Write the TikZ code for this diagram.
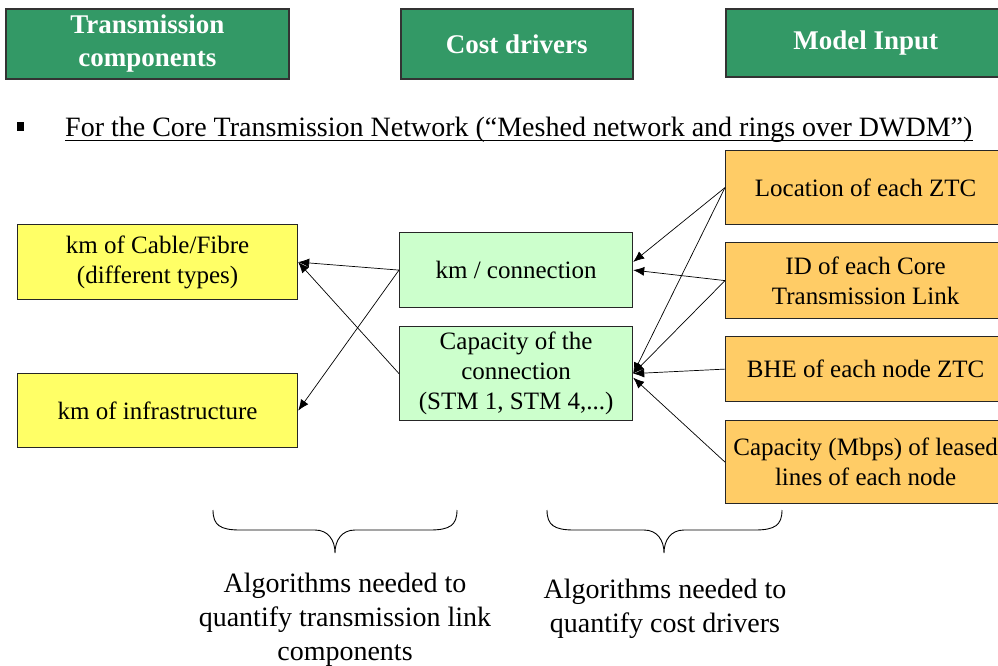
\documentclass[tikz,border=0pt]{standalone}
\usepackage{fontspec}
\setmainfont{Liberation Serif}
\usetikzlibrary{arrows.meta}
\definecolor{hdrgreen}{RGB}{51,153,102}
\definecolor{yel}{RGB}{255,255,102}
\definecolor{lgreen}{RGB}{204,255,204}
\definecolor{orng}{RGB}{255,204,102}
\begin{document}
\begin{tikzpicture}[x=1pt,y=-1pt,
  header/.style={draw=black!80, line width=1.6pt, fill=hdrgreen, text=white,
    font=\fontsize{27}{33}\selectfont\bfseries, align=center, anchor=north west, inner sep=0pt},
  box/.style={draw=black!85, line width=1.2pt, font=\fontsize{25}{30}\selectfont,
    align=center, anchor=north west, inner sep=0pt},
  link/.style={-{Latex[length=11pt,width=9pt]}, line width=0.7pt},
  note/.style={font=\fontsize{28}{34}\selectfont, align=center},
  bracepath/.style={line width=0.9pt}]
\useasboundingbox (0,0) rectangle (998,666);

% column headings
\node[header, minimum width=283, minimum height=70] (h1) at (5,8) {\raisebox{-3pt}{Transmission}\\\raisebox{-3pt}{components}};
\node[header, minimum width=232, minimum height=70] (h2) at (400,8) {Cost drivers};
\node[header, minimum width=280, minimum height=68] (h3) at (725,8) {\raisebox{-3pt}{Model Input}};

% bullet line
\fill (17,122) rectangle (24,131);
\node[anchor=base west, inner sep=0pt, font=\fontsize{28}{34}\selectfont] (bt) at (65,136)
  {For the Core Transmission Network (“Meshed network and rings over DWDM”)};
\draw[line width=0.9pt] ([yshift=-4pt]bt.base west) -- ([yshift=-4pt]bt.base east);

% transmission components
\node[box, fill=yel, minimum width=280, minimum height=75] (y1) at (17,224) {km of Cable/Fibre\\(different types)};
\node[box, fill=yel, minimum width=280, minimum height=74] (y2) at (17,373) {km of infrastructure};

% cost drivers
\node[box, fill=lgreen, minimum width=233, minimum height=75] (kmc) at (399,232) {km / connection};
\node[box, fill=lgreen, minimum width=233, minimum height=94] (cap) at (399,326) {Capacity of the\\connection\\(STM 1, STM 4,...)};

% model inputs
\node[box, fill=orng, minimum width=280, minimum height=74] (o1) at (725,150) {Location of each ZTC};
\node[box, fill=orng, minimum width=280, minimum height=76] (o2) at (725,242) {ID of each Core\\Transmission Link};
\node[box, fill=orng, minimum width=280, minimum height=65] (o3) at (725,336) {BHE of each node ZTC};
\node[box, fill=orng, minimum width=280, minimum height=83] (o4) at (725,420) {Capacity (Mbps) of leased\\lines of each node};

% cost drivers -> components
\draw[link] (kmc.west) -- (y1.east);
\draw[link] (kmc.west) -- (y2.east);
\draw[link] (cap.west) -- (y1.east);

% inputs -> cost drivers
\draw[link] (o1.west) -- (kmc.4);
\draw[link] (o1.west) -- (cap.east);
\draw[link] (o2.west) -- (kmc.east);
\draw[link] (o2.west) -- (cap.east);
\draw[link] (o3.west) -- (cap.east);
\draw[link] (o4.west) -- (cap.-2);

% braces
\draw[bracepath] (213,510) .. controls (213,525) and (220,530) .. (240,530) -- (315,530)
  .. controls (328,530) and (335,540) .. (335,553)
  .. controls (335,540) and (342,530) .. (355,530) -- (430,530)
  .. controls (450,530) and (457,525) .. (457,510);
\draw[bracepath] (547,510) .. controls (547,525) and (554,530) .. (574,530) -- (644,530)
  .. controls (657,530) and (664,540) .. (664,553)
  .. controls (664,540) and (671,530) .. (684,530) -- (755,530)
  .. controls (775,530) and (782,525) .. (782,510);

% notes
\node[note] (alg1) at (345,620) {Algorithms needed to\\quantify transmission link\\components};
\node[note] (alg2) at (665,609) {Algorithms needed to\\quantify cost drivers};
\end{tikzpicture}
\end{document}
